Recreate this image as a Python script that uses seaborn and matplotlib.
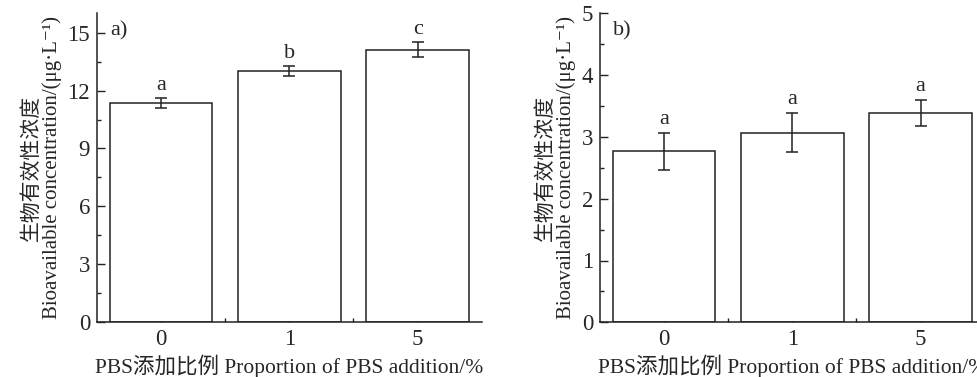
import numpy as np
import pandas as pd
import matplotlib
matplotlib.use("Agg")
import matplotlib.pyplot as plt
from matplotlib.ticker import MultipleLocator, FixedLocator
import seaborn as sns

# Data
categories = ["0", "1", "5"]
conc_a = [11.35, 13.02, 14.12]
sd_a = [0.27, 0.25, 0.40]
letters_a = ["a", "b", "c"]
conc_b = [2.77, 3.07, 3.39]
sd_b = [0.30, 0.32, 0.21]
letters_b = ["a", "a", "a"]

xlabel = "PBS添加比例 Proportion of PBS addition/%"
ylabel = "生物有效性浓度\nBioavailable concentration/(μg·L⁻¹)"

sns.set_theme(style="ticks")
plt.rcParams["font.family"] = ["Liberation Serif", "Noto Sans CJK SC", "DejaVu Sans"]
plt.rcParams["font.size"] = 15
LC = "#222222"

fig = plt.figure(figsize=(9.78, 3.77), dpi=100)
ax_a = fig.add_axes([97 / 978, 1 - 322.3 / 377, 384.7 / 978, 309 / 377])
ax_b = fig.add_axes([600 / 978, 1 - 322.3 / 377, 384.7 / 978, 309 / 377])


def draw(ax, vals, sds, letters, ymax, major, minor, tag):
    df = pd.DataFrame({"cat": categories, "val": vals})
    sns.barplot(data=df, x="cat", y="val", order=categories, color="white",
                edgecolor=LC, linewidth=1.1, width=0.8, errorbar=None,
                saturation=1, ax=ax)
    xs = np.arange(len(categories))
    ax.errorbar(xs, vals, yerr=sds, fmt="none", ecolor=LC, elinewidth=1.1,
                capsize=4.5, capthick=1.1)
    for x, v, s, t in zip(xs, vals, sds, letters):
        ax.annotate(t, (x, v + s), xytext=(0, 6), textcoords="offset points",
                    ha="center", va="baseline", fontsize=16)
    ax.set_xlim(-0.5, 2.5)
    ax.set_ylim(0, ymax)
    ax.yaxis.set_major_locator(MultipleLocator(major))
    ax.yaxis.set_minor_locator(MultipleLocator(minor))
    ax.xaxis.set_minor_locator(FixedLocator([0.5, 1.5]))
    ax.tick_params(which="major", direction="in", length=6, width=1,
                   color=LC, labelsize=16.5, pad=5)
    ax.tick_params(which="minor", direction="in", length=3, width=1, color=LC)
    ax.tick_params(axis="x", which="both", top=False)
    ax.tick_params(axis="y", which="both", right=False)
    for side in ["top", "right"]:
        ax.spines[side].set_visible(False)
    for side in ["left", "bottom"]:
        ax.spines[side].set_color(LC)
        ax.spines[side].set_linewidth(1.1)
    ax.set_xlabel(xlabel, fontsize=15.5, labelpad=3)
    ax.set_ylabel(ylabel, fontsize=15, labelpad=4, linespacing=1.05)
    ax.text(0.035, 0.975, tag, transform=ax.transAxes, ha="left", va="top",
            fontsize=16)


draw(ax_a, conc_a, sd_a, letters_a, 16, 3, 1.5, "a)")
draw(ax_b, conc_b, sd_b, letters_b, 5, 1, 0.5, "b)")

fig.savefig("out.png", dpi=100)
